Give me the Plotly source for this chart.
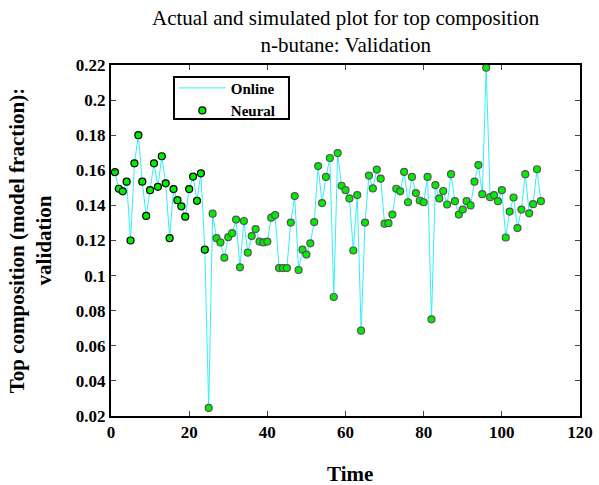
import plotly.graph_objects as go

time = list(range(1, 111))
values = [
    0.159, 0.1495, 0.148, 0.1535, 0.120, 0.164, 0.180, 0.1535, 0.134, 0.1487,
    0.164, 0.1506, 0.168, 0.1526, 0.1213, 0.1493, 0.143, 0.1395, 0.1336, 0.1493,
    0.1564, 0.1426, 0.1583, 0.1148, 0.0246, 0.1353, 0.1213, 0.1189, 0.1102, 0.1219,
    0.1242, 0.1319, 0.1047, 0.1311, 0.1131, 0.1225, 0.1265, 0.1194, 0.1189, 0.1194,
    0.133, 0.1345, 0.1043, 0.1043, 0.1043, 0.1302, 0.1453, 0.1032, 0.1148, 0.112,
    0.1184, 0.1305, 0.1624, 0.1413, 0.1562, 0.167, 0.0878, 0.1698, 0.1512, 0.1487,
    0.144, 0.1143, 0.1459, 0.0686, 0.1302, 0.157, 0.1497, 0.1604, 0.1552, 0.1296,
    0.1299, 0.1348, 0.1495, 0.148, 0.1591, 0.1418, 0.1562, 0.147, 0.1428, 0.1418,
    0.1562, 0.0751, 0.1516, 0.144, 0.1482, 0.1405, 0.1578, 0.1424, 0.1348, 0.1376,
    0.1424, 0.14, 0.1535, 0.163, 0.1464, 0.2185, 0.1447, 0.1459, 0.1424, 0.1487,
    0.1217, 0.1365, 0.1445, 0.1271, 0.1376, 0.1578, 0.1355, 0.1407, 0.1606, 0.1424,
]
online = values
neural = values

x_ticks = [0, 20, 40, 60, 80, 100, 120]
y_ticks = [0.02, 0.04, 0.06, 0.08, 0.1, 0.12, 0.14, 0.16, 0.18, 0.2, 0.22]
y_ticktext = ["0.02", "0.04", "0.06", "0.08", "0.1", "0.12", "0.14", "0.16", "0.18", "0.2", "0.22"]
title_text = "Actual and simulated plot for top composition<br>n-butane: Validation"
x_title = "Time"

serif = "Liberation Serif"
edge_colors = ["#000000" if t <= 24 else "#555555" for t in time]

fig = go.Figure()
fig.add_trace(go.Scatter(
    x=time, y=online, mode="lines", name="Online",
    line=dict(color="#33eeff", width=1),
))
fig.add_trace(go.Scatter(
    x=time, y=neural, mode="markers", name="Neural",
    marker=dict(color="#00ee00", size=7, line=dict(color=edge_colors, width=1.2)),
))

# legend frame
fig.add_shape(
    type="rect", xref="paper", yref="paper",
    x0=0.1343, x1=0.3795, y0=0.846, y1=0.966,
    line=dict(color="black", width=2), fillcolor="white", layer="above",
)

fig.add_annotation(
    text=title_text, xref="paper", yref="paper", x=0.5, y=1,
    xanchor="center", yanchor="bottom", yshift=6, showarrow=False,
    font=dict(family=serif, size=21, color="black"),
)
fig.add_annotation(
    text="<b>" + x_title + "</b>", xref="paper", yref="paper", x=0.51, y=0,
    xanchor="center", yanchor="middle", yshift=-58, showarrow=False,
    font=dict(family=serif, size=21, color="black"),
)

fig.update_layout(
    width=599, height=485,
    margin=dict(l=111, r=19, t=65, b=69, autoexpand=False),
    paper_bgcolor="white", plot_bgcolor="white",
    font=dict(family=serif, color="black"),
    showlegend=True,
    legend=dict(
        x=0.134, y=0.981, xanchor="left", yanchor="top",
        borderwidth=0, bgcolor="rgba(0,0,0,0)",
        font=dict(family=serif, size=15, color="black", weight="bold"),
        itemwidth=47, tracegroupgap=0,
    ),
    xaxis=dict(
        range=[0, 120], tickvals=x_ticks, ticks="inside", ticklen=5, tickwidth=1,
        showline=True, linecolor="black", linewidth=2, mirror="allticks",
        showgrid=False, zeroline=False, automargin=False,
        tickfont=dict(family=serif, size=17, color="black", weight="bold"),
    ),
    yaxis=dict(
        range=[0.02, 0.22], tickvals=y_ticks, ticktext=y_ticktext,
        ticks="inside", ticklen=5, tickwidth=1,
        showline=True, linecolor="black", linewidth=2, mirror="allticks",
        showgrid=False, zeroline=False, automargin=False,
        tickfont=dict(family=serif, size=17, color="black", weight="bold"),
        title=dict(text="<b>Top composition (model fraction):<br>validation</b>",
                   font=dict(family=serif, size=21, color="black"), standoff=18),
    ),
)

fig.write_html("out.html")
